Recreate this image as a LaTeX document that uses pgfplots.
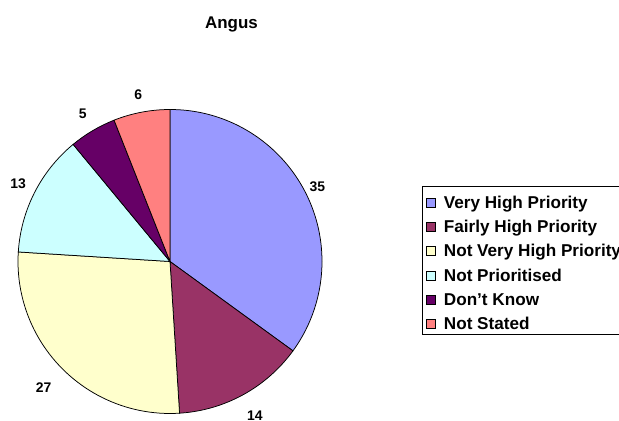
\documentclass[border=0pt]{standalone}
\usepackage{pgfplots}
\pgfplotsset{compat=1.18}
\usepackage{pgfplotstable}
\usepackage{fontspec}
\setmainfont{Liberation Sans}
\definecolor{c1}{HTML}{9999FF}
\definecolor{c2}{HTML}{993366}
\definecolor{c3}{HTML}{FFFFCC}
\definecolor{c4}{HTML}{CCFFFF}
\definecolor{c5}{HTML}{660066}
\definecolor{c6}{HTML}{FF8080}
\newcommand\lblfont{\bfseries\fontsize{14}{16}\selectfont}
\newcommand\legfont{\bfseries\fontsize{17.2}{20}\selectfont}
\newcommand\titfont{\bfseries\fontsize{17}{20}\selectfont}

% value, slice colour, label distance (in radii)
\pgfplotstableread{
value color lr
35 c1 1.089
14 c2 1.160
27 c3 1.175
13 c4 1.122
5  c5 1.128
6  c6 1.119
}\piedata

\begin{document}
\begin{tikzpicture}
\useasboundingbox (0bp,0bp) rectangle (619bp,421bp);
\begin{axis}[
  at={(170bp,159.5bp)}, anchor=center,
  width=304bp, height=304bp, scale only axis,
  xmin=-1, xmax=1, ymin=-1, ymax=1,
  hide axis, clip=false,
  legend image code/.code={\draw[#1, draw=black, line width=0.6bp] (0bp,1.3bp) rectangle (9bp,10.3bp);},
  legend style={
    at={(1.328,0.7484)}, anchor=north west,
    draw=black, line width=0.6bp,
    inner xsep=4.3bp, inner ysep=1bp,
    row sep=-0.8bp, column sep=8bp,
    font=\legfont,
    cells={anchor=base west},
    nodes={inner sep=0pt, text height=21.3bp, text depth=3.7bp},
  },
]
\pgfplotstablegetrowsof{\piedata}
\pgfmathtruncatemacro\nlast{\pgfplotsretval-1}
\def\cum{90}
\pgfplotsforeachungrouped \i in {0,...,\nlast}{%
  \pgfplotstablegetelem{\i}{value}\of\piedata \let\val\pgfplotsretval
  \pgfplotstablegetelem{\i}{color}\of\piedata \let\col\pgfplotsretval
  \pgfplotstablegetelem{\i}{lr}\of\piedata \let\lr\pgfplotsretval
  \pgfmathsetmacro\angA{\cum}%
  \pgfmathsetmacro\angB{\cum-3.6*\val}%
  \pgfmathsetmacro\angM{(\angA+\angB)/2}%
  \edef\temp{%
    \noexpand\filldraw[fill=\col, draw=black, line width=0.75bp]
      (axis cs:0,0) -- (axis cs:{cos(\angA)},{sin(\angA)})
      arc[start angle=\angA, end angle=\angB, radius=152bp] -- cycle;
    \noexpand\node[font=\noexpand\lblfont, inner sep=0pt]
      at (axis cs:{\lr*cos(\angM)},{\lr*sin(\angM)}) {\val};
  }%
  \temp
  \let\cum\angB
}
\addlegendimage{fill=c1}\addlegendentry{Very High Priority}
\addlegendimage{fill=c2}\addlegendentry{Fairly High Priority}
\addlegendimage{fill=c3}\addlegendentry{Not Very High Priority}
\addlegendimage{fill=c4}\addlegendentry{Not Prioritised}
\addlegendimage{fill=c5}\addlegendentry{Don’t Know}
\addlegendimage{fill=c6}\addlegendentry{Not Stated}
\end{axis}
\node[font=\titfont, anchor=base] at (231.5bp,392.7bp) {Angus};
\end{tikzpicture}
\end{document}
